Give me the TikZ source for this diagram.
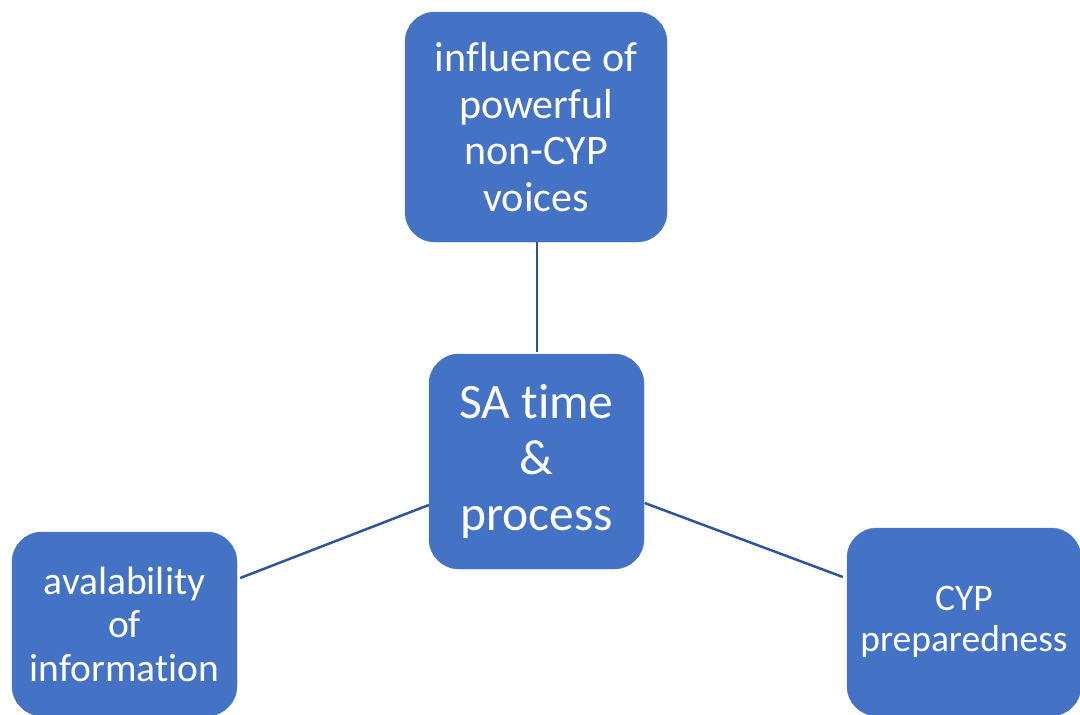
\documentclass[tikz,border=0pt]{standalone}
\usepackage{fontspec}
\setmainfont{Carlito}[Ligatures={NoCommon,NoRequired,NoContextual},Contextuals=NoAlternate]
\usetikzlibrary{calc}
\definecolor{boxblue}{HTML}{4472C4}
\definecolor{linkblue}{HTML}{2F5597}
\begin{document}
\begin{tikzpicture}[x=1pt,y=-1pt,
  topic/.style={rectangle, rounded corners=30pt, fill=boxblue, draw=boxblue,
    text=white, align=center, inner sep=0pt},
  link/.style={draw=linkblue, line width=2.5pt}]
\useasboundingbox (0,0) rectangle (1080,715);
\begin{scope}
\clip (0,0) rectangle (1080,715);
% central topic
\node[topic, minimum width=215pt, minimum height=215pt,
  font=\fontsize{49.5}{56}\selectfont] (ctr) at (536.5,461.5)
  {SA time\\\&\\process};
% surrounding topics
\node[topic, minimum width=262pt, minimum height=230pt,
  font=\fontsize{42}{46.5}\selectfont] (top) at (536,127)
  {influence of\\powerful\\non-CYP\\voices};
\node[topic, minimum width=225pt, minimum height=184pt,
  font=\fontsize{39.5}{43.5}\selectfont] (lft) at (124.5,624)
  {avalability\\of\\information};
\node[topic, minimum width=234pt, minimum height=188pt,
  font=\fontsize{37.5}{41}\selectfont] (rgt) at (964,622)
  {CYP\\preparedness};
\end{scope}
% connectors
\draw[link] ($(top.south)+(1,0)$) -- ($(ctr.north)+(0.5,-2)$);
\draw[link] ($(ctr.west)+(0,43.5)$) -- ($(lft.east)+(3,-46)$);
\draw[link] ($(ctr.east)+(0.5,41.5)$) -- ($(rgt.west)+(-4,-45)$);
\end{tikzpicture}
\end{document}
